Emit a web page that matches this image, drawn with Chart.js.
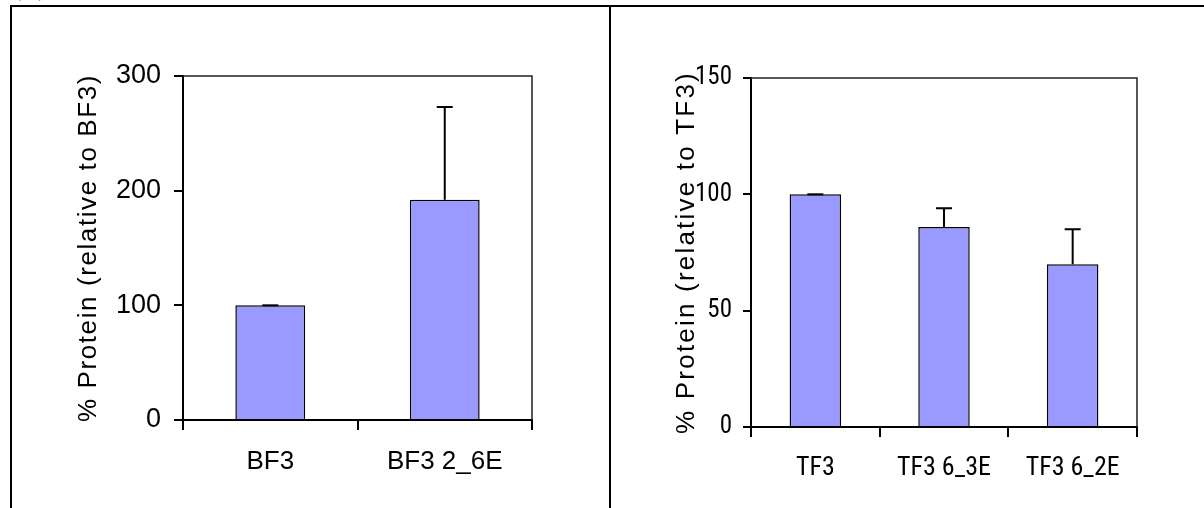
<!DOCTYPE html>
<html>
<head>
<meta charset="utf-8">
<script src="https://cdn.jsdelivr.net/npm/chart.js@4"></script>
<style>
  body { margin: 0; background: #fff; width: 1204px; height: 508px; overflow: hidden; position: relative; }
  .line { position: absolute; background: #000; }
  canvas { position: absolute; }
  #tag { position: absolute; left: 13px; top: -25px; font: 24px 'Liberation Serif', serif; color: #555; }
</style>
</head>
<body>
<div id="tag">(A)</div>
<div class="line" style="left:10px;top:5px;width:1194px;height:2px"></div>
<div class="line" style="left:10px;top:5px;width:2px;height:503px"></div>
<div class="line" style="left:609px;top:5px;width:2px;height:503px"></div>
<canvas id="bfChart" width="596" height="500" style="left:12px;top:8px"></canvas>
<canvas id="tfChart" width="592" height="500" style="left:612px;top:8px"></canvas>
<script>
// left panel
const bfLabels = ['BF3', 'BF3 2_6E'];
const bfValues = [100, 192];
const bfErrors = [0, 81];
const bfTicks = [0, 100, 200, 300];

// right panel
const tfLabels = ['TF3', 'TF3 6_3E', 'TF3 6_2E'];
const tfValues = [100, 86, 70];
const tfErrors = [0, 8, 15];
const tfTicks = [0, 50, 100, 150];

const SANS = "'Liberation Sans', Arial, sans-serif";
const NARROW = "'Roboto Condensed', 'DejaVu Sans Condensed', sans-serif";

// error bars drawn from the y scale
const errorBars = {
  id: 'errorBars',
  afterDatasetsDraw(chart, args, opts) {
    const ctx = chart.ctx;
    const y = chart.scales.y;
    const ds = chart.data.datasets[0];
    ctx.save();
    ctx.strokeStyle = '#000';
    ctx.lineWidth = 2;
    chart.getDatasetMeta(0).data.forEach((bar, i) => {
      const top = y.getPixelForValue(ds.data[i] + opts.errors[i]);
      ctx.beginPath();
      ctx.moveTo(bar.x, bar.y);
      ctx.lineTo(bar.x, top);
      ctx.moveTo(bar.x - 8, top);
      ctx.lineTo(bar.x + 8, top);
      ctx.stroke();
    });
    ctx.restore();
  }
};

// thin top and right edge of the plot area
const frame = {
  id: 'frame',
  afterDraw(chart) {
    const { ctx, chartArea: a } = chart;
    ctx.save();
    ctx.strokeStyle = '#222';
    ctx.lineWidth = 1.5;
    ctx.beginPath();
    ctx.moveTo(a.left, a.top);
    ctx.lineTo(a.right, a.top);
    ctx.lineTo(a.right, a.bottom);
    ctx.stroke();
    ctx.restore();
  }
};

// canvas letterSpacing for the axis title only
function spaceTitle(scale, px) {
  if (scale._spaced) return;
  scale._spaced = true;
  const draw = scale.drawTitle;
  scale.drawTitle = function () {
    this.ctx.letterSpacing = px;
    draw.call(this);
    this.ctx.letterSpacing = '0px';
  };
}

function makeChart(id, cfg) {
  return new Chart(document.getElementById(id), {
    type: 'bar',
    data: {
      labels: cfg.labels,
      datasets: [{
        data: cfg.values,
        backgroundColor: '#9999FF',
        borderColor: '#000',
        borderWidth: 1.5,
        barPercentage: 0.4,
        categoryPercentage: 1
      }]
    },
    plugins: [errorBars, frame],
    options: {
      responsive: false,
      animation: false,
      layout: { padding: cfg.padding },
      plugins: {
        legend: { display: false },
        tooltip: { enabled: false },
        errorBars: { errors: cfg.errors }
      },
      scales: {
        x: {
          grid: { drawOnChartArea: false, color: '#000', lineWidth: 2, tickLength: 10 },
          border: { color: '#000', width: 2 },
          ticks: { color: '#000', padding: cfg.xPad, maxRotation: 0, autoSkip: false, font: cfg.xFont },
          afterFit(s) { s.height = cfg.xHeight; }
        },
        y: {
          min: cfg.ticks[0],
          max: cfg.ticks[cfg.ticks.length - 1],
          afterBuildTicks(s) { s.ticks = cfg.ticks.map(v => ({ value: v })); },
          grid: { drawOnChartArea: false, color: '#000', lineWidth: 2, tickLength: cfg.yTick },
          border: { color: '#000', width: 2 },
          ticks: { color: '#000', padding: cfg.yPad, font: cfg.yFont },
          title: {
            display: true,
            text: cfg.title,
            color: '#000',
            font: { family: SANS, size: 26 },
            padding: { top: cfg.titlePad, bottom: 0 }
          },
          afterFit(s) { s.width = cfg.yWidth; spaceTitle(s, cfg.spacing); }
        }
      }
    }
  });
}

makeChart('bfChart', {
  labels: bfLabels, values: bfValues, errors: bfErrors, ticks: bfTicks,
  title: '% Protein (relative to BF3)',
  padding: { top: 68, right: 76, bottom: 0, left: 0 },
  xHeight: 88, yWidth: 171, xPad: 16, yPad: 13, yTick: 9, titlePad: 61, spacing: '1.6px',
  xFont: { family: SANS, size: 26 }, yFont: { family: SANS, size: 27 }
});

makeChart('tfChart', {
  labels: tfLabels, values: tfValues, errors: tfErrors, ticks: tfTicks,
  title: '% Protein (relative to TF3)',
  padding: { top: 70, right: 67, bottom: 0, left: 0 },
  xHeight: 81, yWidth: 139, xPad: 16, yPad: 11, yTick: 8, titlePad: 59, spacing: '2.2px',
  xFont: { family: NARROW, size: 26 }, yFont: { family: NARROW, size: 25 }
});
</script>
</body>
</html>
